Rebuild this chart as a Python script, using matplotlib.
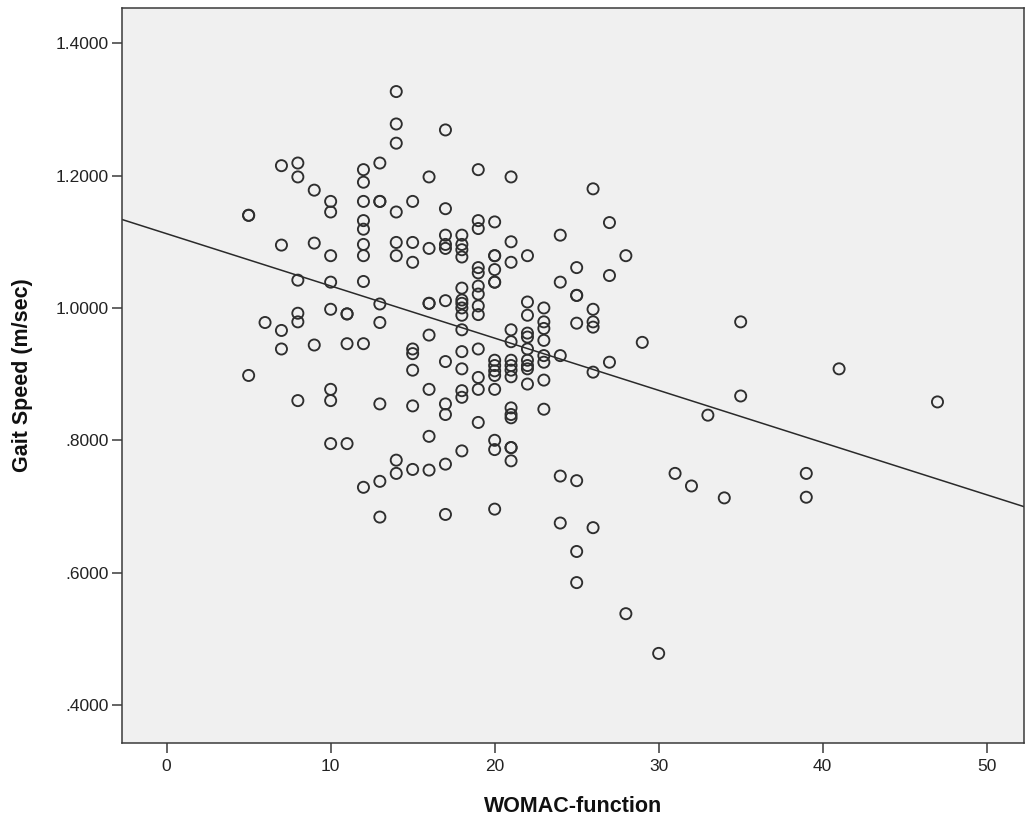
import numpy as np
import matplotlib
matplotlib.use("Agg")
import matplotlib.pyplot as plt
from matplotlib.ticker import FixedLocator, FixedFormatter

# === Data: WOMAC-function vs gait speed, one list per x value ===
womac_5 = [1.140, 1.140, 0.898]
womac_6 = [0.978]
womac_7 = [1.215, 1.095, 0.966, 0.938]
womac_8 = [1.219, 1.198, 1.042, 0.992, 0.979, 0.860]
womac_9 = [1.178, 1.098, 0.944]
womac_10 = [1.161, 1.145, 1.079, 1.039, 0.998, 0.877, 0.860, 0.795]
womac_11 = [0.991, 0.991, 0.946, 0.795]
womac_12 = [1.209, 1.190, 1.161, 1.132, 1.119, 1.096, 1.079, 1.040, 0.946, 0.729]
womac_13 = [1.219, 1.161, 1.161, 1.006, 0.978, 0.855, 0.738, 0.684]
womac_14 = [1.327, 1.278, 1.249, 1.145, 1.099, 1.079, 0.770, 0.750]
womac_15 = [1.161, 1.099, 1.069, 0.938, 0.931, 0.906, 0.852, 0.756]
womac_16 = [1.198, 1.090, 1.007, 1.007, 0.959, 0.877, 0.806, 0.755]
womac_17 = [1.269, 1.150, 1.110, 1.096, 1.090, 1.011, 0.919, 0.855, 0.839, 0.764, 0.688]
womac_18 = [1.110, 1.096, 1.088, 1.077, 1.030, 1.012, 1.007, 1.000, 0.989,
            0.967, 0.934, 0.908, 0.875, 0.865, 0.784]
womac_19 = [1.209, 1.132, 1.120, 1.061, 1.053, 1.033, 1.021, 1.003, 0.990,
            0.938, 0.895, 0.877, 0.827]
womac_20 = [1.130, 1.079, 1.079, 1.058, 1.039, 1.039, 0.921, 0.913, 0.905,
            0.898, 0.877, 0.800, 0.786, 0.696]
womac_21 = [1.198, 1.100, 1.069, 0.967, 0.949, 0.921, 0.913, 0.906, 0.896,
            0.849, 0.839, 0.834, 0.789, 0.789, 0.769]
womac_22 = [1.079, 1.009, 0.989, 0.962, 0.956, 0.938, 0.921, 0.913, 0.908, 0.885]
womac_23 = [1.000, 0.979, 0.969, 0.951, 0.928, 0.918, 0.891, 0.847]
womac_24 = [1.110, 1.039, 0.928, 0.746, 0.675]
womac_25 = [1.061, 1.019, 1.019, 0.977, 0.739, 0.632, 0.585]
womac_26 = [1.180, 0.998, 0.979, 0.971, 0.903, 0.668]
womac_27 = [1.129, 1.049, 0.918]
womac_28 = [1.079, 0.538]
womac_29 = [0.948]
womac_30 = [0.478]
womac_31 = [0.750]
womac_32 = [0.731]
womac_33 = [0.838]
womac_34 = [0.713]
womac_35 = [0.979, 0.867]
womac_39 = [0.750, 0.714]
womac_41 = [0.908]
womac_47 = [0.858]

columns = {
    5: womac_5, 6: womac_6, 7: womac_7, 8: womac_8, 9: womac_9, 10: womac_10,
    11: womac_11, 12: womac_12, 13: womac_13, 14: womac_14, 15: womac_15,
    16: womac_16, 17: womac_17, 18: womac_18, 19: womac_19, 20: womac_20,
    21: womac_21, 22: womac_22, 23: womac_23, 24: womac_24, 25: womac_25,
    26: womac_26, 27: womac_27, 28: womac_28, 29: womac_29, 30: womac_30,
    31: womac_31, 32: womac_32, 33: womac_33, 34: womac_34, 35: womac_35,
    39: womac_39, 41: womac_41, 47: womac_47,
}

# fit line
fit_intercept = 1.1122
fit_slope = -0.00789

x_ticks = [0, 10, 20, 30, 40, 50]
y_ticks = [0.4, 0.6, 0.8, 1.0, 1.2, 1.4]
y_tick_labels = [".4000", ".6000", ".8000", "1.0000", "1.2000", "1.4000"]

# === Build flat arrays ===
womac = np.concatenate([[k] * len(v) for k, v in columns.items()])
speed = np.concatenate([v for v in columns.values()])

plt.rcParams['font.family'] = ['Liberation Sans', 'DejaVu Sans']

fig = plt.figure(figsize=(10.27, 8.24), dpi=100)
ax = fig.add_axes([0.1185, 0.0983, 0.8785, 0.8917])
ax.set_facecolor('#f0f0f0')

xlim = (-2.74, 52.27)
ylim = (0.3426, 1.4529)

# --- regression line ---
line_x = np.array(xlim)
ax.plot(line_x, fit_intercept + fit_slope * line_x, color='#2a2a2a', lw=1.1, zorder=2)

# --- points ---
ax.scatter(womac, speed, s=64, facecolors='none', edgecolors='#2e2e2e',
           linewidths=1.35, zorder=3)

ax.set_xlim(*xlim)
ax.set_ylim(*ylim)

ax.xaxis.set_major_locator(FixedLocator(x_ticks))
ax.yaxis.set_major_locator(FixedLocator(y_ticks))
ax.yaxis.set_major_formatter(FixedFormatter(y_tick_labels))

ax.tick_params(axis='both', direction='out', length=7.5, width=1.1,
               color='#3a3a3a', labelsize=12.5, labelcolor='#222222')
ax.tick_params(axis='y', pad=1.5)
ax.tick_params(axis='x', pad=4)

for sp in ax.spines.values():
    sp.set_color('#3a3a3a')
    sp.set_linewidth(1.1)

ax.set_xlabel("WOMAC-function", fontsize=15.5, fontweight='bold', color='#111111')
ax.set_ylabel("Gait Speed (m/sec)", fontsize=15.5, fontweight='bold', color='#111111')
ax.xaxis.label.set_va('center')
ax.xaxis.set_label_coords(0.5, -0.087)
ax.yaxis.label.set_va('center')
ax.yaxis.label.set_ha('center')
ax.yaxis.set_label_coords(-0.1105, 0.5)

fig.savefig("out.png", dpi=100)
